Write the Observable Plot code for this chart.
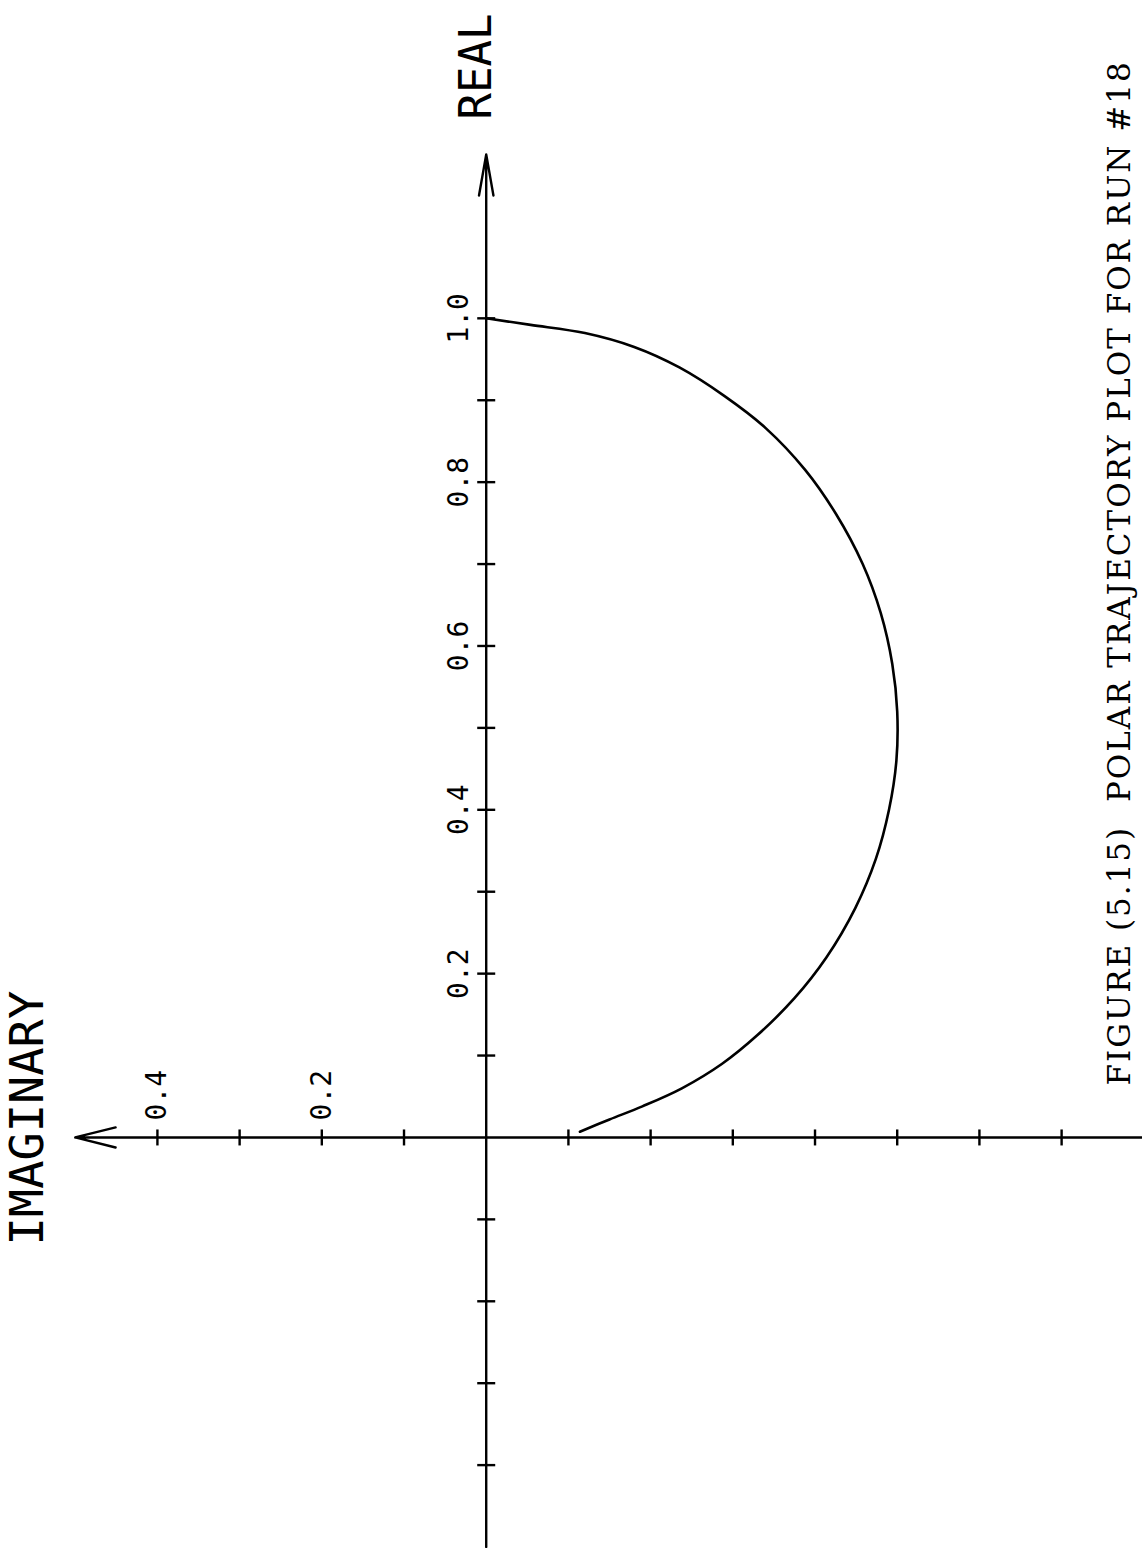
<!DOCTYPE html>
<html>
<head>
<meta charset="utf-8">
<script src="https://cdn.jsdelivr.net/npm/d3@7"></script>
<script src="https://cdn.jsdelivr.net/npm/@observablehq/plot@0.6"></script>
<style>
  html, body { margin: 0; padding: 0; background: #fff; }
  #chart { width: 1142px; height: 1548px; overflow: hidden; }
  svg text { white-space: pre; }
</style>
</head>
<body>
<div id="chart"></div>
<script>
// ---- data ----
const curveReal = [1.000, 0.992, 0.982, 0.965, 0.940, 0.905, 0.866, 0.815, 0.762, 0.700, 0.640, 0.578, 0.520, 0.460, 0.400, 0.340, 0.280, 0.220, 0.170, 0.125, 0.090, 0.060, 0.038, 0.022, 0.007];
const curveImag = [0.000, -0.054, -0.120, -0.180, -0.235, -0.290, -0.340, -0.388, -0.425, -0.458, -0.480, -0.494, -0.500, -0.499, -0.490, -0.474, -0.449, -0.414, -0.375, -0.330, -0.287, -0.238, -0.190, -0.150, -0.114];
const realTicks = [-0.4, -0.3, -0.2, -0.1, 0.1, 0.2, 0.3, 0.4, 0.5, 0.6, 0.7, 0.8, 0.9, 1.0];
const realLabels = [0.2, 0.4, 0.6, 0.8, 1.0];
const imagTicks = [0.4, 0.3, 0.2, 0.1, -0.1, -0.2, -0.3, -0.4, -0.5, -0.6, -0.7];
const imagLabels = [0.4, 0.2];
const realAxisRange = [-0.5, 1.2];
const imagAxisRange = [-0.81, 0.5];
const realTitle = "REAL";
const imagTitle = "IMAGINARY";
const caption = "FIGURE (5.15)  POLAR TRAJECTORY PLOT FOR RUN #18";

const curve = curveReal.map((r, i) => ({real: r, imag: curveImag[i]}));

const hline = {draw(ctx, size) { const r = Math.sqrt(size / Math.PI); ctx.moveTo(-r, 0); ctx.lineTo(r, 0); }};
const vline = {draw(ctx, size) { const r = Math.sqrt(size / Math.PI); ctx.moveTo(0, -r); ctx.lineTo(0, r); }};

const plotFont = "DejaVu Sans Mono";
const fmt = d => d.toFixed(1);

const chart = Plot.plot({
  width: 1142,
  height: 1548,
  margin: 0,
  style: {background: "#fff", color: "#000"},
  x: {domain: [0.5909, -0.7984], axis: null},
  y: {domain: [-0.5018, 1.388], axis: null},
  marks: [
    // real axis (vertical, arrow up)
    Plot.arrow([realAxisRange], {x1: 0, y1: d => d[0], x2: 0, y2: d => d[1],
      stroke: "black", strokeWidth: 2.4, headLength: 26, headAngle: 20}),
    // imaginary axis (horizontal, arrow left)
    Plot.arrow([imagAxisRange], {x1: d => d[0], y1: 0, x2: d => d[1], y2: 0,
      stroke: "black", strokeWidth: 2.4, headLength: 26, headAngle: 28}),
    // ticks
    Plot.dot(realTicks, {x: 0, y: d => d, symbol: hline, r: 9, fill: "none", stroke: "black", strokeWidth: 2.4}),
    Plot.dot(imagTicks, {x: d => d, y: 0, symbol: vline, r: 8, fill: "none", stroke: "black", strokeWidth: 2.4}),
    // tick labels
    Plot.text(realLabels, {x: 0, y: d => d, text: fmt, rotate: -90, dx: -27,
      textAnchor: "middle", lineAnchor: "middle", fontSize: 28, fontFamily: plotFont, fill: "black"}),
    Plot.text(imagLabels, {x: d => d, y: 0, text: fmt, rotate: -90, dy: -17,
      textAnchor: "start", lineAnchor: "middle", fontSize: 28, fontFamily: plotFont, fill: "black"}),
    // axis titles
    Plot.text([realTitle], {x: 0, y: realAxisRange[1], text: d => d, rotate: -90, dx: -9, dy: -35,
      textAnchor: "start", lineAnchor: "middle", fontSize: 44, fontFamily: plotFont, fill: "black"}),
    Plot.text([imagTitle], {x: imagAxisRange[1], y: 0, text: d => d, rotate: -90, dx: -47, dy: 108,
      textAnchor: "start", lineAnchor: "middle", fontSize: 47, fontFamily: plotFont, fill: "black"}),
    // trajectory
    Plot.line(curve, {x: "imag", y: "real", stroke: "black", strokeWidth: 2.6, curve: "catmull-rom"}),
    // caption
    Plot.text([caption], {frameAnchor: "bottom-right", text: d => d, rotate: -90, dx: -22, dy: -463,
      textAnchor: "start", lineAnchor: "middle", fontSize: 31,
      fontFamily: "DejaVu Serif", fill: "black"})
  ]
});
chart.querySelectorAll("text").forEach(t => {
  if (t.textContent === caption) t.setAttribute("letter-spacing", "2");
});
document.getElementById("chart").appendChild(chart);
</script>
</body>
</html>
